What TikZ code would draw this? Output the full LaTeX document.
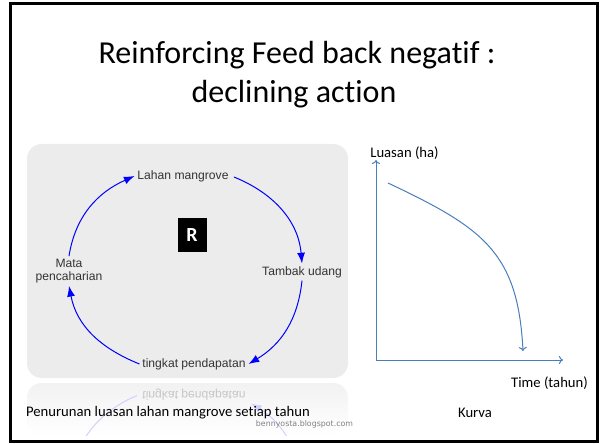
\documentclass[tikz,border=0pt]{standalone}
\usepackage{fontspec}
\setmainfont{Carlito}[Ligatures=NoCommon]
\newfontfamily\arialfont{Liberation Sans}
\newfontfamily\webfont{DejaVu Sans}
\usetikzlibrary{arrows.meta}

\definecolor{panelgray}{RGB}{236,236,236}
\definecolor{labelgray}{RGB}{51,51,51}
\definecolor{loopblue}{RGB}{0,0,255}
\definecolor{curveblue}{RGB}{74,126,187}

\tikzset{
  loopvar/.style={font=\arialfont\fontsize{9.1}{9.8}\selectfont, text=labelgray,
                  inner sep=2pt, align=center},
  looparrow/.style={loopblue, line width=0.75pt, -{Latex[length=8pt,width=6pt]}},
  axisline/.style={curveblue, line width=0.75pt, -{To[length=3pt,width=6pt]}},
  caption/.style={font=\fontsize{11}{13}\selectfont, text=black, inner sep=1pt},
  titletext/.style={font=\fontsize{24}{29}\selectfont, anchor=base},
}

\begin{document}
\begin{tikzpicture}[x=0.75pt,y=0.75pt]
\useasboundingbox (0,0) rectangle (605,443);

% draw the slide frame
\draw [line width=2.25pt] (10.5,1.5) rectangle (597.5,439.5);

% title
\node (title) [titletext] at (297,379) {Reinforcing Feed back negatif :};
\node (subtitle) [titletext] at (294,340) {declining action};

% draw the panel and its reflection
\fill [panelgray, rounded corners=11pt] (27,65) rectangle (348,299);
\shade [top color=panelgray!70, bottom color=white, rounded corners=11pt] (27,60) rectangle (348,8);

\begin{scope}
\clip (27,8) rectangle (348,60);
\begin{scope}[shift={(0,127)}, yscale=-1]
\draw [loopblue!18, line width=0.75pt, -{Latex[length=8pt,width=6pt]}] (186,172) ++(-5:116 and 102) arc [start angle=-5, end angle=-56, x radius=116, y radius=102];
\draw [loopblue!18, line width=0.75pt] (186,172) ++(-115:116 and 102) arc [start angle=-115, end angle=-170, x radius=116, y radius=102];
\end{scope}
\end{scope}
\node (tingkatrefl) [loopvar, text=gray!45, yscale=-1] at (194,48) {tingkat pendapatan};

% Draw the loop variables
\node (lahan) [loopvar] at (183,267) {Lahan mangrove};
\node (tambak) [loopvar] at (302,171) {Tambak udang};
\node (tingkat) [loopvar] at (194,79) {tingkat pendapatan};
\node (mata) [loopvar] at (69,172) {Mata\\pencaharian};

\node (rbox) [fill=black, text=white, font=\bfseries\fontsize{15}{15}\selectfont,
              minimum width=21.75pt, minimum height=25.5pt, inner sep=0pt] at (192,208) {R};

% draw the loop arrows
\draw [looparrow, shorten <=2pt] (lahan.east) to [out=-22, in=95] (tambak.north);
\draw [looparrow] (tambak.south) to [out=-96, in=31] (tingkat.east);
\draw [looparrow] (tingkat.west) to [out=158, in=-79] (mata.south);
\draw [looparrow] (mata.north) to [out=81, in=-156] (lahan.west);

%%%%%%%%%%%%%%%%%%%%%%%%%%%%%%%%%%%%%%%%%%%%%%%%%%%%%%%%%%%%%%%%%%%%%%%%%%%%
% the curve
\coordinate (origin) at (376,83);
\coordinate (ytip) at (376,283);
\coordinate (xtip) at (563,83);
\draw [axisline] (origin) -- (ytip);
\draw [axisline] (origin) -- (xtip);
\node (luasan) [caption] at (404.5,290) {Luasan (ha)};
\node (time) [caption] at (549.5,60) {Time (tahun)};

\coordinate (curvestart) at (388,260);
\coordinate (curveend) at (523,92);
\draw [axisline] (curvestart) .. controls (483,215) and (518,191) .. (curveend);

% captions
\node (caption) [caption] at (168,30) {Penurunan luasan lahan mangrove setiap tahun};
\node (kurva) [caption] at (475,30) {Kurva};
\node (blog) [font=\webfont\fontsize{5.9}{7}\selectfont, text=gray] at (304.5,19) {bennyosta.blogspot.com};
\end{tikzpicture}
\end{document}
